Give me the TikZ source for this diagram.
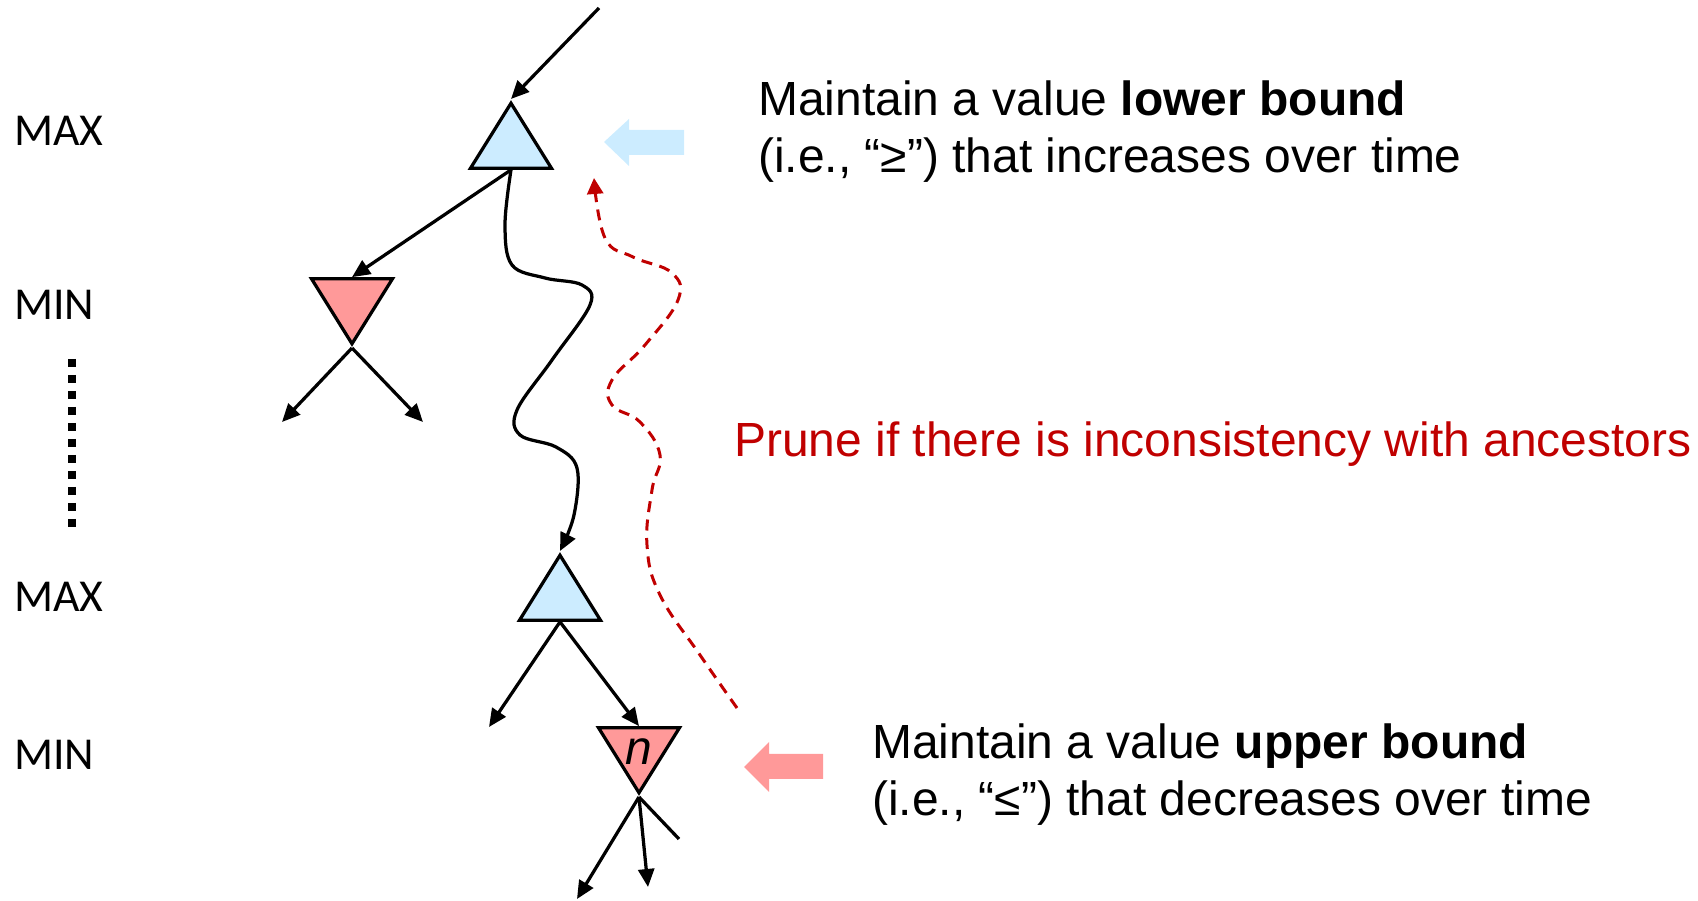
\documentclass[tikz,border=0pt]{standalone}
\usepackage{fontspec}
\setmainfont{Liberation Sans}
\newfontfamily\levelfont{Carlito}
\usetikzlibrary{arrows.meta,shapes.geometric}

\definecolor{maxblue}{HTML}{CCECFF}
\definecolor{minpink}{HTML}{FF9999}
\definecolor{prunered}{HTML}{C00000}

\begin{document}
\begin{tikzpicture}[
  x=0.02cm, y=-0.02cm,
  font=\fontsize{27.3pt}{33pt}\selectfont,
  >={Triangle[length=0.36cm,width=0.32cm]},
  tri/.style={isosceles triangle,isosceles triangle stretches,draw,line width=0.065cm,inner sep=0pt,minimum width=1.62cm,minimum height=1.3cm,anchor=apex},
  maxnode/.style={tri,shape border rotate=90,fill=maxblue},
  minnode/.style={tri,shape border rotate=270,fill=minpink},
  edge/.style={->,line width=0.065cm},
  level/.style={font=\levelfont\fontsize{26pt}{30pt}\selectfont,anchor=west,inner sep=0pt},
  note/.style={anchor=base west,align=left,inner sep=0pt},
  prune/.style={->,>={Triangle[length=0.32cm,width=0.32cm]},draw=prunered,fill=none,line width=0.06cm,dash pattern=on 0.22cm off 0.15cm},
]
\useasboundingbox (0,0) rectangle (1698,901);

% level labels
\node[level] (lmax1) at (14,131) {MAX};
\node[level] (lmin1) at (14,305) {MIN};
\node[level] (lmax2) at (14,597) {MAX};
\node[level] (lmin2) at (14,755) {MIN};
\draw[line width=0.16cm,dash pattern=on 0.16cm off 0.16cm] (72,359) -- (72,527);

% tree nodes (placed by apex)
\node[maxnode] (root) at (511,99) {};
\node[minnode] (mina) at (352,348) {};
\node[maxnode] (maxb) at (560,551) {};
\node[minnode] (minn) at (639,797) {};
\node[inner sep=0pt] (nlbl) at (639,752) {\itshape n};

% free ends
\coordinate (top) at (599,8);
\coordinate (la) at (282,422);
\coordinate (lb) at (423,422);
\coordinate (lc) at (489,727);
\coordinate (ld) at (577,899);
\coordinate (le) at (648,887);
\coordinate (lf) at (679,839);

% edges
\draw[edge] (top) -- (root.apex);
\draw[edge] (root.lower side) -- (mina.lower side);
\draw[edge] (mina.apex) -- (la);
\draw[edge] (mina.apex) -- (lb);
\draw[edge] plot[smooth,tension=0.6] coordinates {(root.lower side) (505,225) (512,265) (545,278) (582,285) (590,305) (552,360) (517,410) (520,435) (556,447) (577,468) (574,515) (maxb.apex)};
\draw[edge] (maxb.lower side) -- (lc);
\draw[edge] (maxb.lower side) -- (minn.lower side);
\draw[edge] (minn.apex) -- (ld);
\draw[edge] (minn.apex) -- (le);
\draw[line width=0.065cm] (minn.apex) -- (lf);

% pruning path
\coordinate (pfrom) at (737,708);
\coordinate (pto) at (594,178);
\draw[prune] plot[smooth,tension=0.7] coordinates {(pfrom) (700,655) (660,595) (647,545) (652,490) (660,455) (640,422) (612,405) (612,380) (645,345) (678,300) (672,273) (633,257) (605,238) (pto)};

% block arrows
\fill[maxblue] (684,130) -- (629,130) -- (629,119) -- (604,142) -- (629,166) -- (629,155) -- (684,155) -- cycle;
\fill[minpink] (823,754) -- (769,754) -- (769,742) -- (744,767) -- (769,792) -- (769,779) -- (823,779) -- cycle;

% notes
\node[note] (lower) at (758,173) {Maintain a value \textbf{lower bound}\\(i.e., “≥”) that increases over time};
\node[note,text=prunered] (prunetxt) at (734,457) {Prune if there is inconsistency with ancestors};
\node[note] (upper) at (872,816) {Maintain a value \textbf{upper bound}\\(i.e., “≤”) that decreases over time};

\end{tikzpicture}
\end{document}
